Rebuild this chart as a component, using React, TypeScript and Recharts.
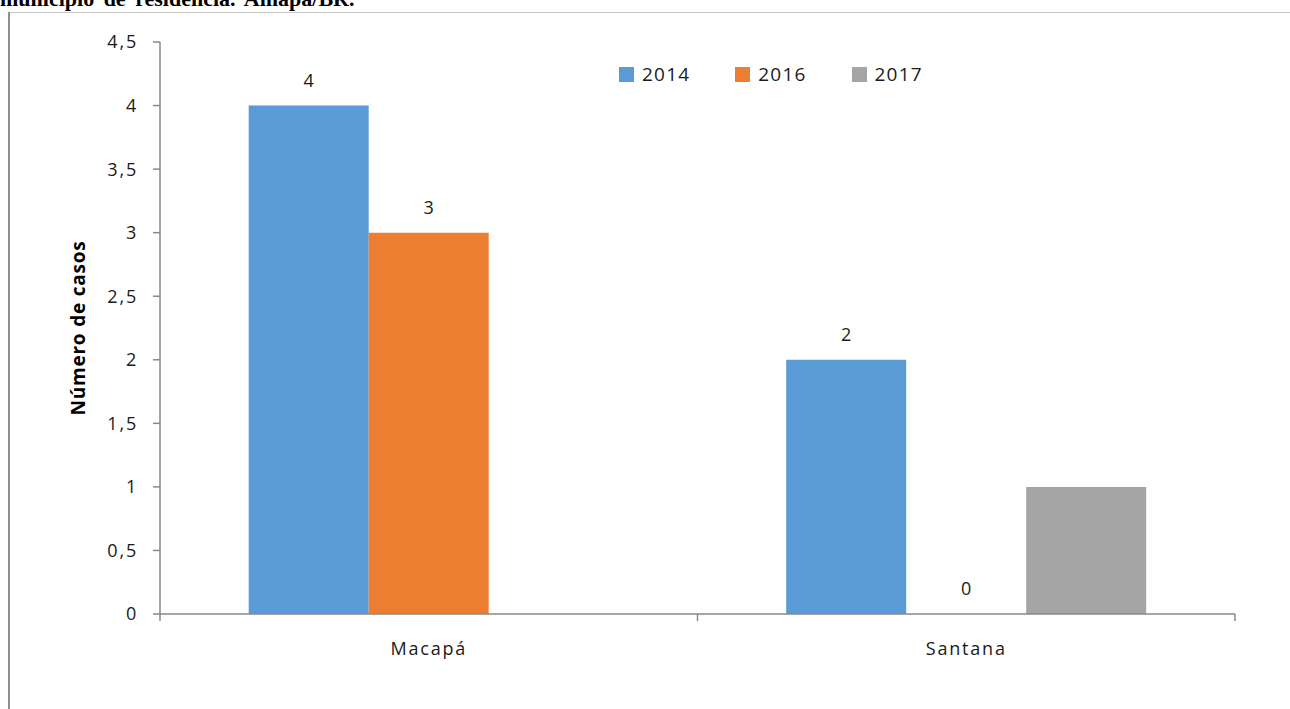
import { BarChart, Bar, XAxis, YAxis, Label, Rectangle } from "recharts";

const categories = ["Macapá", "Santana"];
const years = ["2014", "2016", "2017"];
const cases2014 = [4, 2];
const cases2016 = [3, 0];
const cases2017 = [null, 1];
const yTicks = [0, 0.5, 1, 1.5, 2, 2.5, 3, 3.5, 4, 4.5];

const colors = ["#5B9BD5", "#ED7D31", "#A5A5A5"];
const axisColor = "#898989";
const font = "'Open Sans', sans-serif";

const data = categories.map((c, i) => ({
    name: c,
    y2014: cases2014[i],
    y2016: cases2016[i],
    y2017: cases2017[i],
}));

const fmt = (v: number) => String(v).replace(".", ",");

// category label + tick marks on the band edges (Excel style)
function CategoryTick(props: any) {
    const { x, y, payload, index, visibleTicksCount } = props;
    const half = payload.offset ?? 0;
    const last = index === visibleTicksCount - 1;
    return (
        <g>
            <line x1={x - half} x2={x - half} y1={y} y2={y + 7} stroke={axisColor} strokeWidth={1.5} />
            {last && <line x1={x + half} x2={x + half} y1={y} y2={y + 7} stroke={axisColor} strokeWidth={1.5} />}
            <text x={x} y={y + 41} textAnchor="middle" fontFamily={font} fontSize={18} letterSpacing={1.8} fill="#1a1a1a">
                {payload.value}
            </text>
        </g>
    );
}

// bar + value label above it (also drawn for a zero value)
function LabelledBar(props: any) {
    const { x, y, width, height, fill, value } = props;
    const v = Array.isArray(value) ? value[1] - value[0] : value;
    return (
        <g>
            {height > 0 && <Rectangle x={x} y={y} width={width} height={height} fill={fill} />}
            <text x={x + width / 2} y={y - 19} textAnchor="middle" fontFamily={font} fontSize={18} fill="#1a1a1a">
                {v}
            </text>
        </g>
    );
}

function LegendBox() {
    return (
        <div style={{ position: "absolute", left: 619, top: 61, display: "flex", alignItems: "center", fontFamily: font, fontSize: 19, lineHeight: "26px", letterSpacing: 1.2, color: "#1a1a1a" }}>
            {years.map((y, i) => (
                <div key={y} style={{ display: "flex", alignItems: "center", marginRight: i < years.length - 1 ? 45 : 0 }}>
                    <span style={{ width: 15, height: 15, background: colors[i], display: "inline-block", marginRight: 8 }} />
                    <span>{y}</span>
                </div>
            ))}
        </div>
    );
}

export default function App() {
    return (
        <div style={{ position: "fixed", left: 0, top: 0, width: 1290, height: 709, background: "#fff", overflow: "hidden" }}>
            <div style={{ position: "absolute", left: 0, top: -11, fontFamily: "'Liberation Serif', serif", fontWeight: 700, fontSize: 22, lineHeight: "20px", whiteSpace: "nowrap", wordSpacing: 4 }}>
                município de residência. Amapá/BR.
            </div>
            <div style={{ position: "absolute", left: 9, top: 12, width: 1281, height: 1, background: "#c6c6c6" }} />
            <div style={{ position: "absolute", left: 8, top: 12, width: 2, height: 697, background: "#8f8f8f" }} />

            <div style={{ position: "absolute", left: 0, top: 0 }}>
                <BarChart
                    width={1290}
                    height={709}
                    data={data}
                    margin={{ top: 42, right: 55, bottom: 55, left: 100 }}
                    barCategoryGap="16.5%"
                    barGap={0}
                >
                    <XAxis
                        dataKey="name"
                        height={40}
                        axisLine={{ stroke: axisColor, strokeWidth: 1.5 }}
                        tickLine={false}
                        tickSize={0}
                        tickMargin={0}
                        tick={<CategoryTick />}
                        interval={0}
                    />
                    <YAxis
                        width={60}
                        domain={[0, 4.5]}
                        ticks={yTicks}
                        interval={0}
                        tickFormatter={fmt}
                        axisLine={{ stroke: axisColor, strokeWidth: 1.5 }}
                        tickLine={{ stroke: axisColor, strokeWidth: 1.5 }}
                        tickSize={7}
                        tickMargin={15}
                        tick={{ fill: "#1a1a1a", fontSize: 18, fontFamily: font, letterSpacing: 1.8 }}
                    >
                        <Label
                            value="Número de casos"
                            angle={-90}
                            position="insideLeft"
                            offset={0}
                            dx={-22}
                            style={{ fontFamily: font, fontWeight: 700, fontSize: 19, fill: "#000", letterSpacing: 0.8, textAnchor: "middle" }}
                        />
                    </YAxis>
                    <Bar dataKey="y2014" name="2014" fill={colors[0]} shape={<LabelledBar />} isAnimationActive={false} />
                    <Bar dataKey="y2016" name="2016" fill={colors[1]} shape={<LabelledBar />} isAnimationActive={false} />
                    <Bar dataKey="y2017" name="2017" fill={colors[2]} isAnimationActive={false} />
                </BarChart>
            </div>
            <LegendBox />
        </div>
    );
}
